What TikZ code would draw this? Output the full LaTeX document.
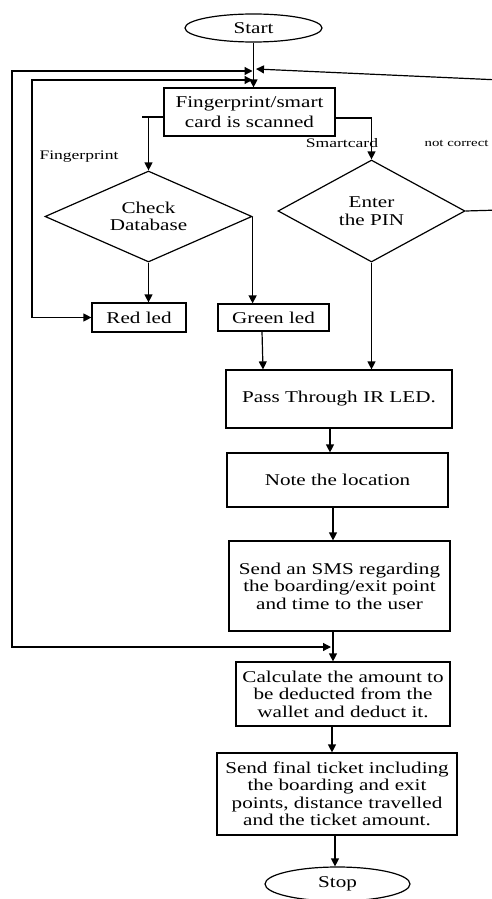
\documentclass[tikz,border=0pt]{standalone}
\usepackage{fontspec}
\setmainfont{Liberation Serif}[FakeStretch=1.28]
\newfontfamily\lblfont{Liberation Serif}[FakeStretch=1.35]
\usetikzlibrary{shapes.geometric,arrows.meta}
\begin{document}
\begin{tikzpicture}[x=1pt,y=-1pt,
  line width=1.2pt,
  every node/.style={font=\fontsize{16.5}{17.5}\selectfont, align=center, inner sep=1pt},
  box/.style={draw, rectangle},
  term/.style={draw, ellipse},
  decision/.style={draw, diamond, inner sep=0pt},
  lbl/.style={font=\lblfont\fontsize{13}{15}\selectfont},
  arr/.style={-{Triangle[length=8pt,width=8pt]}},
  darr/.style={{Triangle[length=8pt,width=8pt]}-{Triangle[length=8pt,width=8pt]}}]
\useasboundingbox (0,0) rectangle (492,899);

\node[term, minimum width=137pt, minimum height=28pt] (start) at (253.5,28) {Start};
\node[box, minimum width=171pt, minimum height=48pt, font=\fontsize{16.5}{19.5}\selectfont] (scan) at (249.5,112) {Fingerprint/smart\\card is scanned};
\node[decision, minimum width=207pt, minimum height=91pt, aspect=2.2] (cdb) at (148.5,216.5) {Check\\Database};
\node[decision, minimum width=187pt, minimum height=102pt, aspect=1.8] (pin) at (371.5,211) {Enter\\the PIN};
\node[box, minimum width=94pt, minimum height=29pt] (red) at (139,317.5) {Red led};
\node[box, minimum width=111pt, minimum height=27pt] (green) at (273.5,317.5) {Green led};
\node[box, minimum width=226pt, minimum height=58pt] (pass) at (339,399) {Pass Through IR LED.};
\node[box, minimum width=221pt, minimum height=54pt] (note) at (337.5,480) {Note the location};
\node[box, minimum width=221pt, minimum height=90pt] (sms) at (339.5,586) {Send an SMS regarding\\the boarding/exit point\\and time to the user};
\node[box, minimum width=214pt, minimum height=64pt] (calc) at (343,694) {Calculate the amount to\\be deducted from the\\wallet and deduct it.};
\node[box, minimum width=240pt, minimum height=82pt] (final) at (337,794) {Send final ticket including\\the boarding and exit\\points, distance travelled\\and the ticket amount.};
\node[term, minimum width=145pt, minimum height=34pt] (stop) at (337.5,884) {Stop};

\node[lbl] (lfp) at (79,157) {Fingerprint};
\node[lbl] (lsc) at (342,143) {Smartcard};
\node[lbl, anchor=west, font=\lblfont\fontsize{11}{13}\selectfont] (lnc) at (423,143) {not correct};

% coordinates
\coordinate (jA) at (252.5,71);
\coordinate (jB) at (252.5,80);
\coordinate (jC) at (256,69);
\coordinate (oA) at (12,71);
\coordinate (oB) at (12,647);
\coordinate (oC) at (331,647);
\coordinate (rA) at (32,80);
\coordinate (rB) at (32,317.5);
\coordinate (nA) at (500,210);
\coordinate (nB) at (500,80);
\coordinate (stub) at (142,117);
\coordinate (gx) at (262,0);
\coordinate (gx2) at (263,0);
\coordinate (px) at (330,0);
\coordinate (nx) at (333,0);
\coordinate (cx) at (332,0);
\coordinate (fx) at (335,0);

% connectors
\draw[arr] (start.south) -- (start.south |- scan.north);
\draw ([yshift=-5pt]scan.west) -- (stub);
\draw[arr] (cdb.north |- stub) -- (cdb.north);
\draw[arr] ([yshift=-6pt]scan.east) -| (pin.north);
\draw[arr] (cdb.south) -- (cdb.south |- red.north);
\draw[arr] (cdb.east) -- (cdb.east |- green.north);
\draw[darr] (jB) -- (rA) -- (rB) -- (red.west);
\draw[darr] (jA) -- (oA) -- (oB) -- (oC);
\draw[arr] (pin.east) -- (nA) -- (nB) -- (jC);
\draw[arr] (green.south -| gx) -- (pass.north -| gx2);
\draw[arr] (pin.south) -- (pin.south |- pass.north);
\draw[arr] (pass.south -| px) -- (note.north -| px);
\draw[arr] (note.south -| nx) -- (sms.north -| nx);
\draw[arr] (sms.south -| nx) -- (calc.north -| nx);
\draw[arr] (calc.south -| cx) -- (final.north -| cx);
\draw[arr] (final.south -| fx) -- (stop.north -| fx);
\end{tikzpicture}
\end{document}
